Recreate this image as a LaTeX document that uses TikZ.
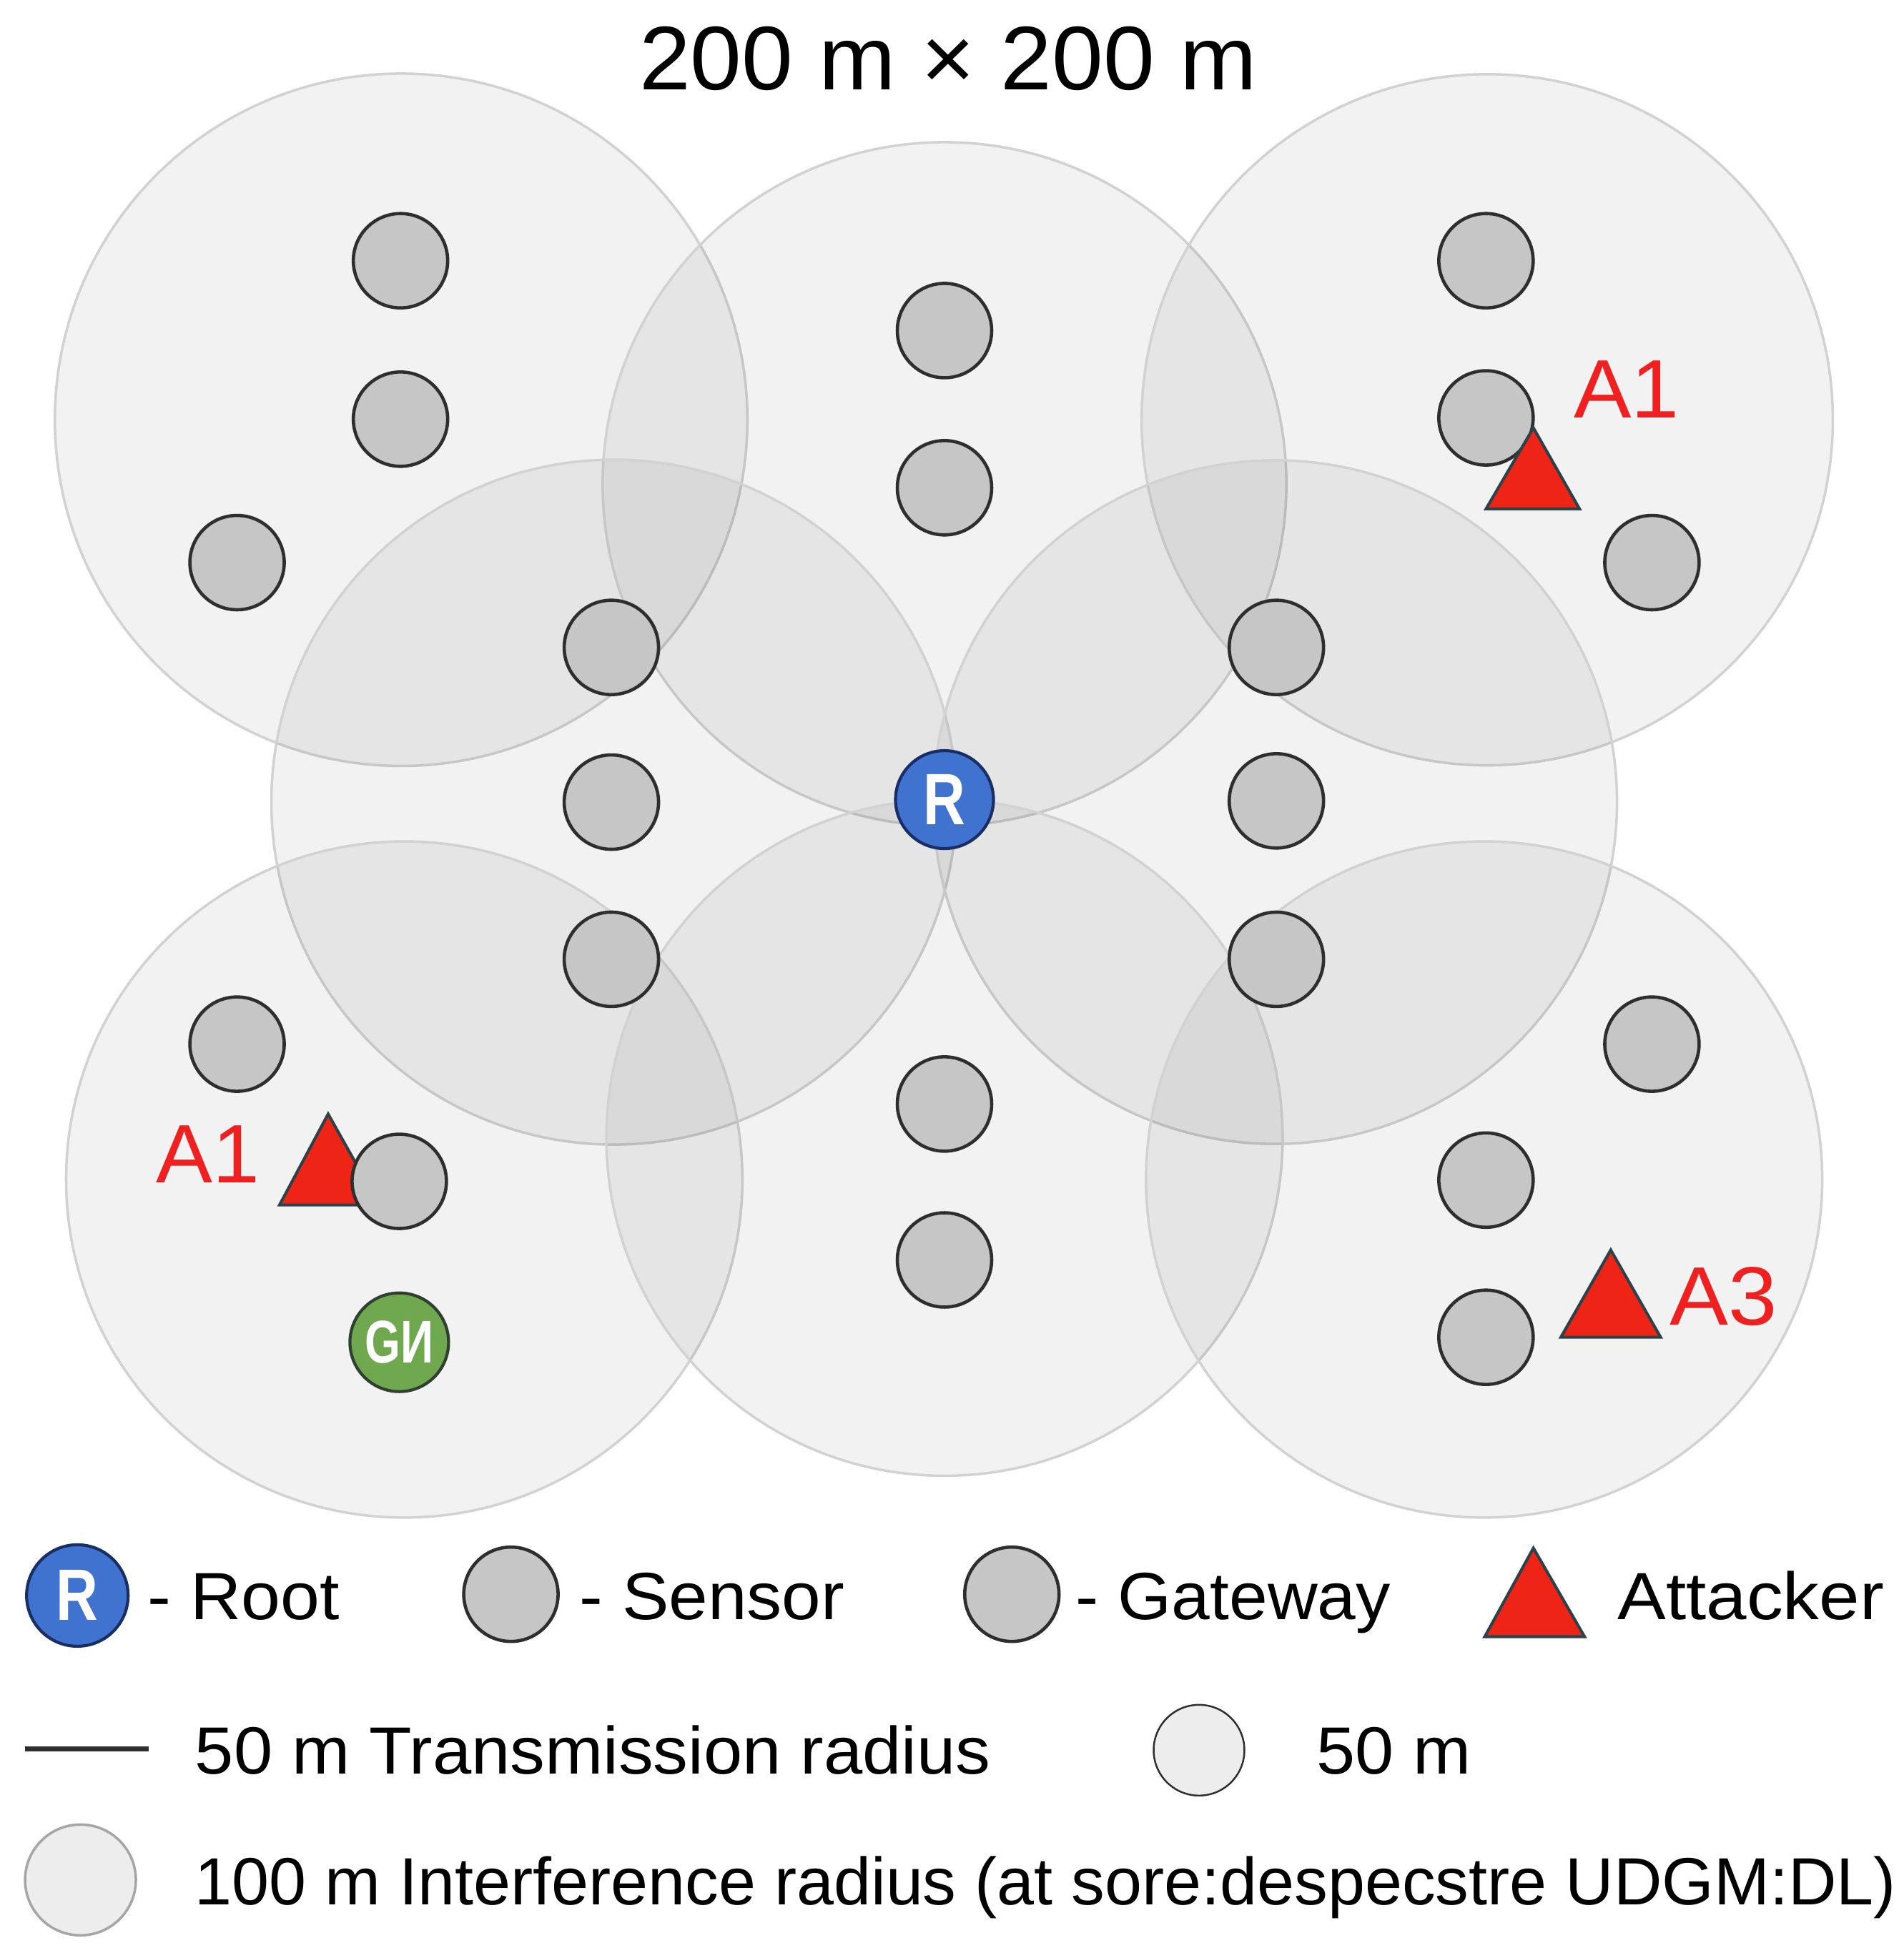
\documentclass[tikz,border=0pt]{standalone}
\usepackage{fontspec}
\usepackage{graphicx}
\setmainfont{Liberation Sans}
\definecolor{zoneline}{HTML}{D2D2D2}
\definecolor{sensorfill}{HTML}{C6C6C6}
\definecolor{nodeline}{HTML}{2E2E2E}
\definecolor{rootfill}{HTML}{3F73CF}
\definecolor{rootline}{HTML}{1A2E66}
\definecolor{gvfill}{HTML}{70A84F}
\definecolor{gvline}{HTML}{2F4030}
\definecolor{attackfill}{HTML}{EE2417}
\definecolor{attackline}{HTML}{2A4248}
\definecolor{attacktext}{HTML}{EE2020}
\newcommand{\wider}[2]{\scalebox{#1}[1]{#2}}
\tikzset{
  zone/.style={fill=black,fill opacity=0.05,draw=zoneline,draw opacity=1,line width=1pt},
  sensor/.style={circle,fill=sensorfill,draw=nodeline,line width=1.3pt,minimum size=1.32cm,inner sep=0pt},
  rootnode/.style={circle,fill=rootfill,draw=rootline,line width=1.2pt,minimum size=1.37cm,inner sep=0pt,text=white,font=\fontsize{29}{29}\selectfont\bfseries},
  gvnode/.style={circle,fill=gvfill,draw=gvline,line width=1.2pt,minimum size=1.38cm,inner sep=0pt,text=white,font=\fontsize{24}{24}\selectfont\bfseries},
  attacker/.style={fill=attackfill,draw=attackline,line width=1.15pt,line join=miter},
  label/.style={anchor=base west,inner sep=0pt,text=black,font=\fontsize{26.6}{26.6}\selectfont},
  tag/.style={anchor=base west,inner sep=0pt,text=attacktext,font=\fontsize{33}{33}\selectfont},
  title/.style={anchor=base west,inner sep=0pt,text=black,font=\fontsize{36}{36}\selectfont},
}
\begin{document}
\begin{tikzpicture}[x=0.01745cm,y=-0.01745cm]
\useasboundingbox[fill=white] (0,0) rectangle (1525.5,1569.6);
% interference zones
\draw[zone] (321.5,336.5) circle (277.5);
\draw[zone] (757,388) circle (274);
\draw[zone] (1192,336.5) circle (277);
\draw[zone] (492,643) circle (274.5);
\draw[zone] (1022,643) circle (274);
\draw[zone] (324,945.5) circle (271);
\draw[zone] (757,912) circle (271);
\draw[zone] (1189.5,945.5) circle (271);
% title
\node[title] (ttl) at (512,72) {\wider{1.02}{200 m × 200 m}};
% sensors
\node[sensor] (s1) at (321,209) {};
\node[sensor] (s2) at (321,336) {};
\node[sensor] (s3) at (190,451) {};
\node[sensor] (s4) at (757,265) {};
\node[sensor] (s5) at (757,391) {};
\node[sensor] (s6) at (1191,209) {};
\node[sensor] (s7) at (1191,335) {};
\node[sensor] (s8) at (1324,451) {};
\node[sensor] (s9) at (490,519) {};
\node[sensor] (s10) at (490,643) {};
\node[sensor] (s11) at (490,769) {};
\node[sensor] (s12) at (1023,519) {};
\node[sensor] (s13) at (1023,642) {};
\node[sensor] (s14) at (1023,769) {};
\node[sensor] (s15) at (190,837) {};
\node[sensor] (s17) at (757,885) {};
\node[sensor] (s18) at (757,1010) {};
\node[sensor] (s19) at (1324,837) {};
\node[sensor] (s20) at (1191,946) {};
\node[sensor] (s21) at (1191,1072) {};
% attackers
\draw[attacker] (1229,343) -- (1266,408) -- (1191,408) -- cycle;
\draw[attacker] (263,893) -- (304,966) -- (224,966) -- cycle;
\draw[attacker] (1291,1002) -- (1331,1072) -- (1251,1072) -- cycle;
\node[sensor] (s16) at (320,947) {};
\node[tag] (a1) at (1261,335) {\wider{1.04}{A1}};
\node[tag] (a2) at (125,948) {\wider{1.02}{A1}};
\node[tag] (a3) at (1338,1062) {\wider{1.06}{A3}};
% root and gateway
\node[rootnode] (root) at (757,641) {\wider{0.8}{R}};
\node[gvnode] (gv) at (320,1076) {\wider{0.76}{GИ}};
% legend row 1
\node[rootnode,minimum size=1.42cm] (lr) at (62,1279) {\wider{0.8}{R}};
\node[label] (lrt) at (118,1298) {\wider{1.055}{- Root}};
\node[sensor] (ls) at (409.5,1278) {};
\node[label] (lst) at (464,1298) {\wider{1.05}{- Sensor}};
\node[sensor] (lg) at (811,1278) {};
\node[label] (lgt) at (862,1298) {\wider{1.033}{- Gateway}};
\draw[attacker] (1229,1241) -- (1270,1312) -- (1190,1312) -- cycle;
\node[label] (lat) at (1296,1298) {\wider{1.087}{Attacker}};
% legend row 2
\coordinate (la) at (20,1402);
\coordinate (lb) at (119,1402);
\draw[nodeline,line width=1.8pt] (la) -- (lb);
\node[label] (ltt) at (156,1422) {\wider{1.043}{50 m Transmission radius}};
\node[circle,fill=black!7,draw=nodeline,line width=0.7pt,minimum size=1.27cm,inner sep=0pt] (l50) at (961,1403) {};
\node[label] (l50t) at (1055,1422) {\wider{1.04}{50 m}};
% legend row 3
\node[circle,fill=black!7,draw=black!35,line width=1pt,minimum size=1.55cm,inner sep=0pt] (l100) at (64.5,1507) {};
\node[label] (l100t) at (156,1527) {100 m Interference radius (at sore:despecstre UDGM:DL)};
\end{tikzpicture}
\end{document}
